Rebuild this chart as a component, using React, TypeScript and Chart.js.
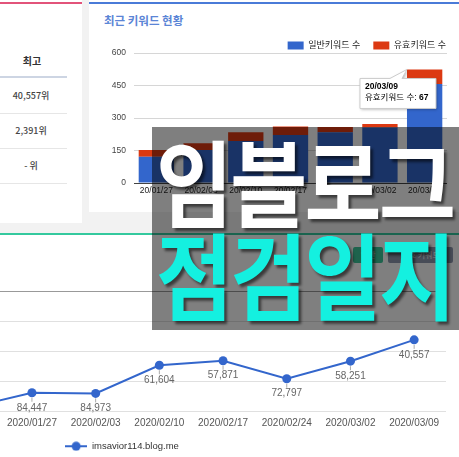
import React, { useEffect, useRef } from 'react';
import { Chart, registerables } from 'chart.js';

Chart.register(...registerables);

// ---- data ----
const barCategories = ['20/01/27', '20/02/03', '20/02/10', '20/02/17', '20/02/24', '20/03/02', '20/03/09'];
const generalKeywords = [121, 152, 194, 221, 234, 256, 457];
const validKeywords = [31, 31, 40, 40, 24, 16, 67];
const barTickStep = 150;
const barMax = 600;

const lineCategories = ['2020/01/20', '2020/01/27', '2020/02/03', '2020/02/10', '2020/02/17', '2020/02/24', '2020/03/02', '2020/03/09'];
const rankValues = [97000, 84447, 84973, 61604, 57871, 72797, 58251, 40557];
const rankMax = 100000;
const rankStep = 25000;

const tableHeader = '최고';
const tableRows = ['40,557위', '2,391위', '- 위'];

const LATIN = '"Liberation Sans", Arial, "Noto Sans CJK KR", sans-serif';
const KR = '"Noto Sans CJK KR", "Liberation Sans", sans-serif';

function BarChart() {
  const ref = useRef<HTMLCanvasElement>(null);
  useEffect(() => {
    const tooltipPlugin = {
      id: 'fixedTooltip',
      afterDraw(chart: any) {
        const idx = barCategories.length - 1;
        const el = chart.getDatasetMeta(1).data[idx];
        if (!el) return;
        const { x, y, width } = el.getProps(['x', 'y', 'width'], true);
        const tipX = x - width / 2;
        const tipY = y;
        const ctx = chart.ctx;
        const w = 76, h = 30;
        const left = tipX - 47;
        const top = tipY + 9;
        ctx.save();
        ctx.beginPath();
        ctx.moveTo(left, top);
        ctx.lineTo(left + 30, top);
        ctx.lineTo(tipX, tipY);
        ctx.lineTo(left + 42, top);
        ctx.lineTo(left + w, top);
        ctx.lineTo(left + w, top + h);
        ctx.lineTo(left, top + h);
        ctx.closePath();
        ctx.shadowColor = 'rgba(0,0,0,0.3)';
        ctx.shadowBlur = 3;
        ctx.shadowOffsetX = 1;
        ctx.shadowOffsetY = 1;
        ctx.fillStyle = '#ffffff';
        ctx.fill();
        ctx.shadowColor = 'transparent';
        ctx.strokeStyle = '#cccccc';
        ctx.lineWidth = 1;
        ctx.stroke();
        ctx.fillStyle = '#000000';
        ctx.textBaseline = 'middle';
        ctx.textAlign = 'left';
        ctx.font = `bold 8.5px ${LATIN}`;
        ctx.fillText(barCategories[idx], left + 5, top + 8);
        const lbl = chart.data.datasets[1].label + ': ';
        ctx.font = `8.5px ${LATIN}`;
        ctx.fillText(lbl, left + 5, top + 19);
        const lw = ctx.measureText(lbl).width;
        ctx.font = `bold 8.5px ${LATIN}`;
        ctx.fillText(String(validKeywords[idx]), left + 5 + lw, top + 19);
        ctx.restore();
      },
    };
    const chart = new Chart(ref.current!, {
      type: 'bar',
      data: {
        labels: barCategories,
        datasets: [
          { label: '일반키워드 수', data: generalKeywords, backgroundColor: '#3366cc', stack: 's', barPercentage: 0.79, categoryPercentage: 1 },
          { label: '유효키워드 수', data: validKeywords, backgroundColor: '#dc3912', stack: 's', barPercentage: 0.79, categoryPercentage: 1 },
        ],
      },
      options: {
        animation: false,
        responsive: false,
        layout: { padding: { left: 0, right: 0, top: 0, bottom: 0 } },
        plugins: {
          legend: {
            position: 'top',
            align: 'end',
            maxHeight: 25,
            labels: { boxWidth: 16, boxHeight: 8, padding: 13, font: { size: 9, family: LATIN }, color: '#222' },
          },
          tooltip: { enabled: false },
        },
        scales: {
          x: {
            stacked: true,
            grid: { display: false, drawTicks: false },
            border: { display: false },
            ticks: { font: { size: 8.5, family: LATIN }, color: '#222', padding: 3, maxRotation: 0, autoSkip: false },
            afterFit: (s: any) => { s.height = 25; },
          },
          y: {
            stacked: true,
            min: 0,
            max: barMax,
            ticks: { stepSize: barTickStep, font: { size: 8.5, family: LATIN }, color: '#444', padding: 8 },
            grid: { color: (c: any) => (c.tick && c.tick.value === 0 ? '#444' : '#d6d6d6'), drawTicks: false },
            border: { display: false },
            afterFit: (s: any) => { s.width = 45; },
          },
          yPad: {
            position: 'right',
            grid: { display: false, drawTicks: false },
            ticks: { display: false },
            border: { display: false },
            afterFit: (s: any) => { s.width = 12; },
          },
        },
      } as any,
      plugins: [tooltipPlugin],
    });
    return () => chart.destroy();
  }, []);
  return <canvas ref={ref} width={370} height={180} style={{ position: 'absolute', left: 89, top: 28, width: 370, height: 180, display: 'block' }} />;
}

function LineChart() {
  const ref = useRef<HTMLCanvasElement>(null);
  useEffect(() => {
    const icon = document.createElement('canvas');
    icon.width = 22;
    icon.height = 10;
    const ic = icon.getContext('2d')!;
    ic.strokeStyle = '#3366cc';
    ic.lineWidth = 2;
    ic.beginPath();
    ic.moveTo(0, 5);
    ic.lineTo(22, 5);
    ic.stroke();
    ic.fillStyle = '#3366cc';
    ic.beginPath();
    ic.arc(11, 5, 4.5, 0, Math.PI * 2);
    ic.fill();

    const valueLabels = {
      id: 'valueLabels',
      afterDatasetsDraw(chart: any) {
        const meta = chart.getDatasetMeta(0);
        const ctx = chart.ctx;
        ctx.save();
        ctx.font = `10px ${LATIN}`;
        ctx.fillStyle = '#666';
        ctx.textAlign = 'center';
        ctx.textBaseline = 'middle';
        ctx.strokeStyle = '#aaa';
        ctx.lineWidth = 1;
        meta.data.forEach((pt: any, i: number) => {
          const v = rankValues[i];
          ctx.beginPath();
          ctx.moveTo(pt.x, pt.y + 5);
          ctx.lineTo(pt.x, pt.y + 9);
          ctx.stroke();
          ctx.fillText(v.toLocaleString('en-US'), pt.x, pt.y + 15);
        });
        ctx.restore();
      },
    };

    const chart = new Chart(ref.current!, {
      type: 'line',
      data: {
        labels: lineCategories,
        datasets: [
          {
            label: 'imsavior114.blog.me',
            data: rankValues,
            borderColor: '#3366cc',
            backgroundColor: '#3366cc',
            borderWidth: 2,
            pointRadius: 4.5,
            pointBorderWidth: 0,
            pointBackgroundColor: '#3366cc',
            tension: 0,
          },
        ],
      },
      options: {
        animation: false,
        responsive: false,
        layout: { padding: { left: 0, right: 14, top: 55, bottom: 0 } },
        plugins: {
          legend: {
            position: 'bottom',
            labels: { usePointStyle: true, pointStyle: icon, pointStyleWidth: 22, padding: 10, font: { size: 9.5, family: LATIN }, color: '#333' },
          },
          tooltip: { enabled: false },
        },
        scales: {
          x: {
            offset: true,
            grid: { display: false, drawTicks: false },
            border: { display: false },
            ticks: { font: { size: 10, family: LATIN }, color: '#555', padding: 6, maxRotation: 0, autoSkip: false },
            afterFit: (s: any) => { s.height = 20; },
          },
          y: {
            reverse: true,
            min: 0,
            max: rankMax,
            ticks: { display: false, stepSize: rankStep },
            grid: { color: (c: any) => (c.tick && c.tick.value === 0 ? '#999' : '#e0e0e0'), drawTicks: false },
            border: { display: false },
            afterFit: (s: any) => { s.width = 138.4; },
          },
        },
      } as any,
      plugins: [valueLabels],
    });
    return () => chart.destroy();
  }, []);
  return <canvas ref={ref} width={662} height={225} style={{ position: 'absolute', left: -202, top: 236, width: 662, height: 225, display: 'block' }} />;
}

const bigText: React.CSSProperties = {
  position: 'absolute',
  fontFamily: KR,
  fontWeight: 700,
  fontSize: 94,
  lineHeight: '94px',
  letterSpacing: -3,
  whiteSpace: 'nowrap',
  transform: 'scaleX(0.89)',
  transformOrigin: '0 0',
  textShadow: '3px 3px 3px rgba(0,0,0,0.55)',
};

export default function App() {
  const rowLines = [77, 113, 148, 183];
  const rowCenters = [96, 131, 166];
  return (
    <div style={{ position: 'fixed', left: 0, top: 0, width: 459, height: 457, overflow: 'hidden', background: '#f2f2f2', fontFamily: LATIN }}>
      {/* top-left table panel */}
      <div style={{ position: 'absolute', left: 0, top: 0, width: 82, height: 223, background: '#fff' }}>
        <div style={{ position: 'absolute', left: 0, top: 2, width: 82, height: 2, background: '#e2537a' }} />
        <div style={{ position: 'absolute', left: 0, top: 53, width: 64, height: 16, lineHeight: '16px', textAlign: 'center', fontFamily: KR, fontWeight: 700, fontSize: 10, color: '#333' }}>{tableHeader}</div>
        {rowLines.map((y, i) => (
          <div key={y} style={{ position: 'absolute', left: 0, top: y - (i === 0 ? 1 : 0), width: 67, height: i === 0 ? 2 : 1, background: i === 0 ? '#cdd5e3' : '#e6e6e6' }} />
        ))}
        {tableRows.map((t, i) => (
          <div key={t} style={{ position: 'absolute', left: 0, top: rowCenters[i] - 8, width: 62, height: 16, lineHeight: '16px', textAlign: 'center', fontFamily: KR, fontWeight: 500, fontSize: 9, color: '#444' }}>{t}</div>
        ))}
      </div>
      {/* top-right keyword panel */}
      <div style={{ position: 'absolute', left: 89, top: 0, width: 370, height: 212, background: '#fff' }}>
        <div style={{ position: 'absolute', left: 0, top: 2, width: 370, height: 2, background: '#4a7bd8' }} />
        <div style={{ position: 'absolute', left: 15, top: 11, height: 18, lineHeight: '18px', fontFamily: KR, fontWeight: 700, fontSize: 11.5, color: '#5b85d6', whiteSpace: 'nowrap' }}>최근 키워드 현황</div>
      </div>
      <BarChart />
      {/* bottom panel */}
      <div style={{ position: 'absolute', left: 0, top: 233, width: 459, height: 224, background: '#fff' }}>
        <div style={{ position: 'absolute', left: 0, top: 0, width: 459, height: 2, background: '#34c99e' }} />
        <div style={{ position: 'absolute', left: 353, top: 14, width: 30, height: 16, borderRadius: 2, background: '#3cc79a', color: '#fff', fontFamily: KR, fontSize: 8, lineHeight: '16px', textAlign: 'center' }}>일반</div>
        <div style={{ position: 'absolute', left: 388, top: 14, width: 65, height: 16, borderRadius: 2, background: '#8f98ae', color: '#fff', fontFamily: KR, fontSize: 8, lineHeight: '16px', textAlign: 'center' }}>유효 키워드</div>
      </div>
      <LineChart />
      {/* overlay */}
      <div style={{ position: 'absolute', left: 152, top: 127, width: 307, height: 203, background: 'rgba(0,0,0,0.5)' }} />
      <div style={{ ...bigText, left: 156, top: 132, color: '#ffffff' }}>임블로그</div>
      <div style={{ ...bigText, left: 156, top: 225, color: '#14f0e0' }}>점검일지</div>
    </div>
  );
}
